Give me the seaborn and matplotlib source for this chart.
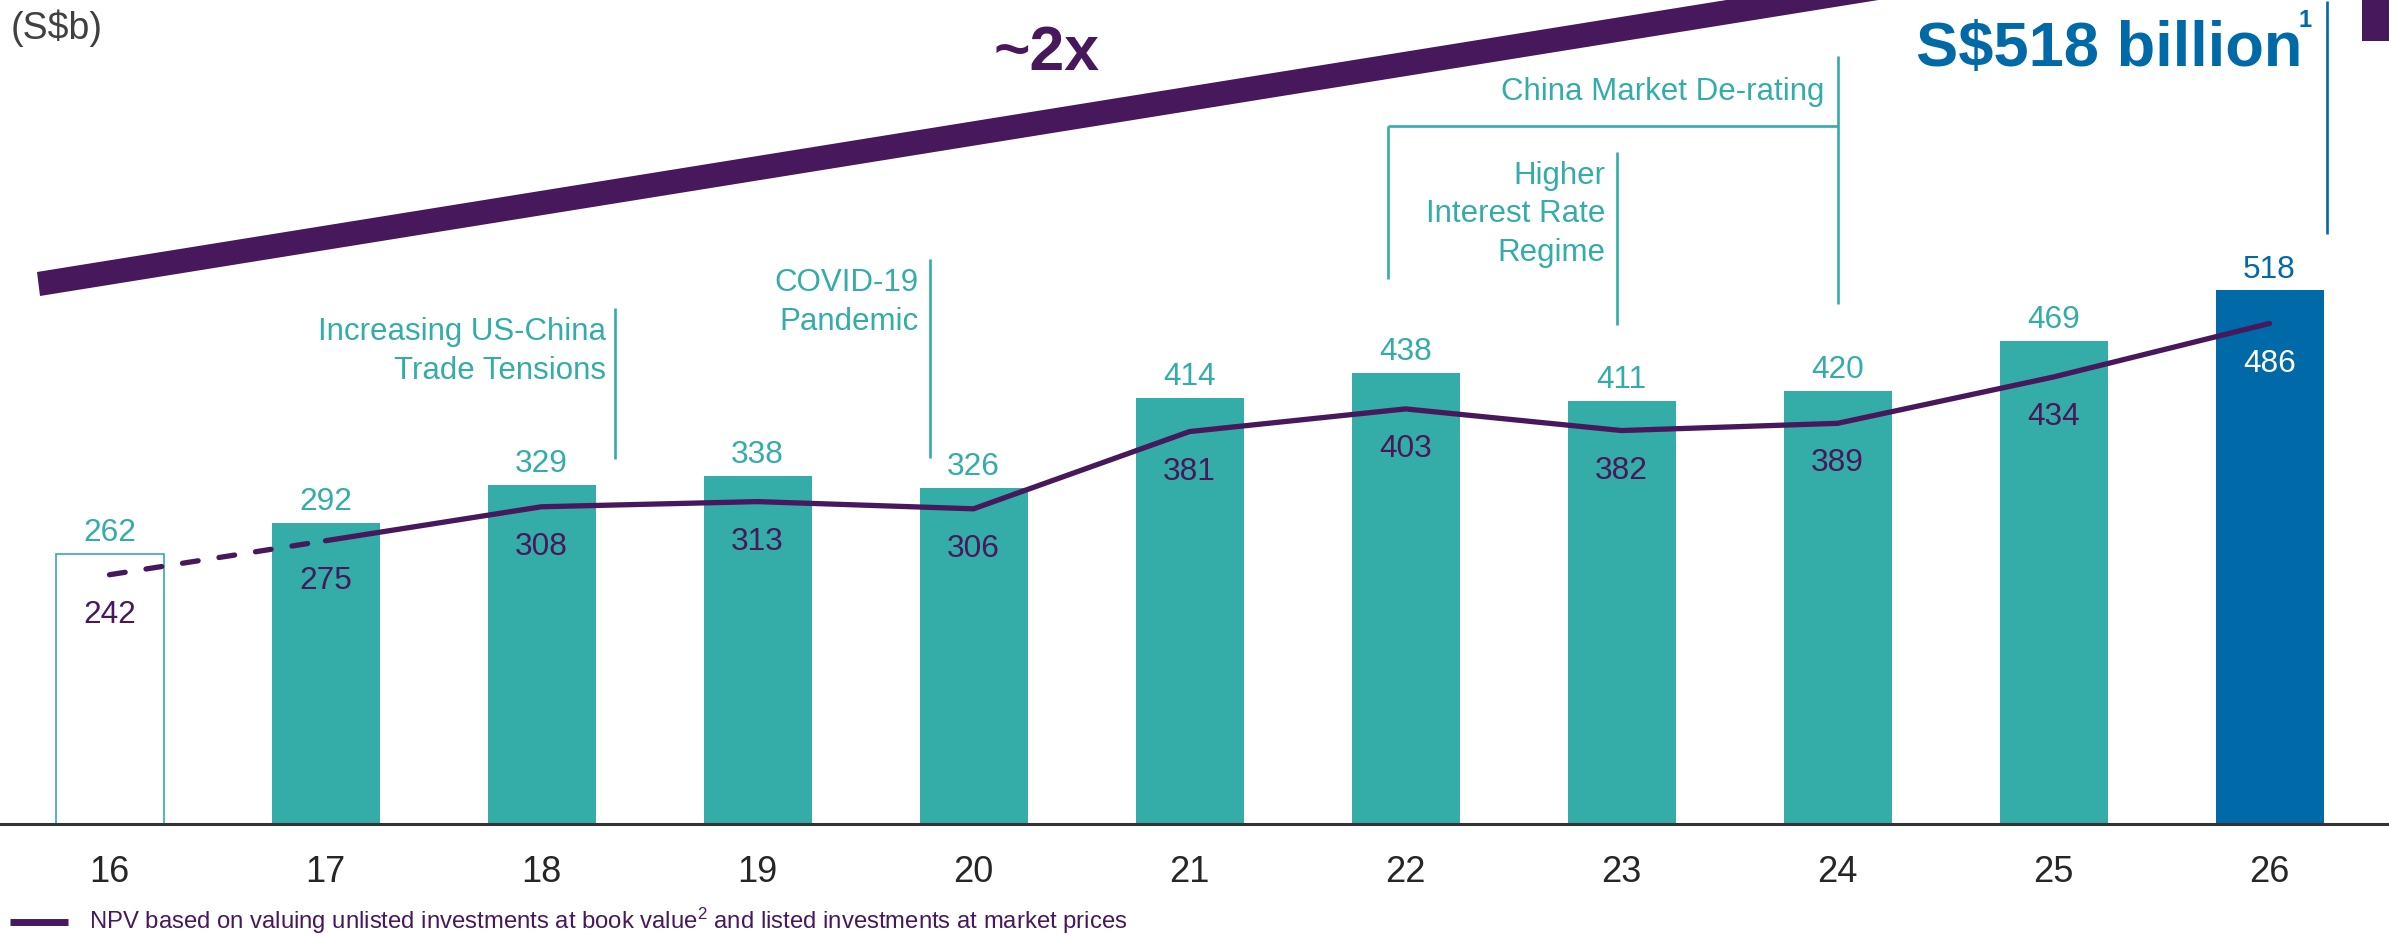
import numpy as np
import pandas as pd
import matplotlib
matplotlib.use("Agg")
import matplotlib.pyplot as plt
import seaborn as sns
from matplotlib.patches import Polygon, Rectangle
from matplotlib.lines import Line2D

# ---------------- data ----------------
years = ["16", "17", "18", "19", "20", "21", "22", "23", "24", "25", "26"]
portfolio_value = [262, 292, 329, 338, 326, 414, 438, 411, 420, 469, 518]
npv_book_value = [242, 275, 308, 313, 306, 381, 403, 382, 389, 434, 486]

unit_label = "(S$b)"
growth_label = "~2x"
headline_label = "S$518 billion"
headline_note = "1"
event_us_china = ["Increasing US-China", "Trade Tensions"]
event_covid = ["COVID-19", "Pandemic"]
event_rates = ["Higher", "Interest Rate", "Regime"]
event_china = ["China Market De-rating"]
legend_label = ("NPV based on valuing unlisted investments at book value$^{2}$ "
                "and listed investments at market prices")

# ---------------- style ----------------
TEAL = "#34ACA7"
BLUE = "#0069A7"
PURPLE = "#47185B"
DARK = "#262626"
GREY = "#404040"

sns.set_theme(style="white")
plt.rcParams["font.family"] = ["Liberation Sans", "DejaVu Sans"]
plt.rcParams["mathtext.fontset"] = "custom"
plt.rcParams["mathtext.rm"] = "Liberation Sans"
plt.rcParams["mathtext.it"] = "Liberation Sans:italic"
plt.rcParams["mathtext.bf"] = "Liberation Sans:bold"

W, H = 2389, 937
BASE = 825      # baseline pixel row
PXU = 1.03      # pixels per S$b
X0 = 109.5      # pixel centre of first bar
STEP = 216      # pixel distance between bars

fig = plt.figure(figsize=(W / 100, H / 100), dpi=100)
ax = fig.add_axes([0, 1 - BASE / H, 1, BASE / H])


def dx(px):
    return (px - X0) / STEP


def dy(py):
    return (BASE - py) / PXU


df = pd.DataFrame({"year": years, "portfolio": portfolio_value,
                   "npv": npv_book_value, "pos": np.arange(len(years))})

bar_colors = [TEAL] * (len(years) - 1) + [BLUE]
sns.barplot(data=df, x="year", y="portfolio", hue="year", palette=bar_colors,
            legend=False, width=0.5, saturation=1, linewidth=0, ax=ax)
first = ax.patches[0]
first.set_facecolor("white")
first.set_edgecolor(TEAL)
first.set_linewidth(1.2)

# NPV line: dashed for first segment, solid afterwards
LW = 3.8
sns.lineplot(data=df.iloc[:2], x="pos", y="npv", color=PURPLE, lw=LW,
             linestyle=(0, (3.0, 4.0)), dash_capstyle="round", ax=ax)
sns.lineplot(data=df.iloc[1:], x="pos", y="npv", color=PURPLE, lw=LW,
             solid_capstyle="round", solid_joinstyle="round", ax=ax)

# value labels
n = len(years)
for i, (p, v) in enumerate(zip(portfolio_value, npv_book_value)):
    last = i == n - 1
    ax.annotate(str(p), (i, p), xytext=(0, 15.8), textcoords="offset points",
                ha="center", va="center", fontsize=22.8,
                color=BLUE if last else TEAL)
    ax.annotate(str(v), (i, v), xytext=(0, -28.2), textcoords="offset points",
                ha="center", va="center", fontsize=22.8,
                color="white" if last else PURPLE)

# axes cosmetics
ax.set_xlim(dx(0), dx(W))
ax.set_ylim(0, BASE / PXU)
ax.set_xlabel("")
ax.set_ylabel("")
ax.set_yticks([])
ax.tick_params(axis="x", length=0, pad=21.5, labelsize=26, labelcolor=DARK)
for s in ["top", "left", "right"]:
    ax.spines[s].set_visible(False)
ax.spines["bottom"].set_color("#333333")
ax.spines["bottom"].set_linewidth(2.2)

# ---------------- annotations ----------------
ALW = 1.9


def vline(xp, y1, y2, color=TEAL):
    ax.plot([dx(xp), dx(xp)], [dy(y1), dy(y2)], color=color, lw=ALW,
            clip_on=False, solid_capstyle="butt")


def lines_text(lines, xr, baselines):
    for t, b in zip(lines, baselines):
        ax.text(dx(xr), dy(b), t, ha="right", va="baseline", fontsize=22.5,
                color=TEAL)


lines_text(event_us_china, 606, [340, 379])
vline(615, 309, 460)
lines_text(event_covid, 919, [291, 330])
vline(930, 260, 459)
lines_text(event_rates, 1605, [184, 222, 261])
vline(1617, 153, 326)
lines_text(event_china, 1824, [100])
vline(1388, 127, 280)
vline(1838, 57, 305)
ax.plot([dx(1388), dx(1838)], [dy(127), dy(127)], color=TEAL, lw=ALW,
        solid_capstyle="butt")
vline(2327, 2, 235, color=BLUE)

# growth band
band_px = [(37, 273), (2000, 273 - 0.161 * 1963), (2000, 297 - 0.161 * 1960), (40, 297)]
ax.add_patch(Polygon([(dx(a), dy(b)) for a, b in band_px], closed=True,
                     facecolor=PURPLE, edgecolor="none"))
ax.text(dx(1047), dy(70), growth_label, ha="center", va="baseline",
        fontsize=45, fontweight="bold", color=PURPLE)

# headline
ax.text(dx(2302), dy(66), headline_label, ha="right", va="baseline",
        fontsize=45.5, fontweight="bold", color=BLUE)
ax.text(dx(2298), dy(27), headline_note, ha="left", va="baseline",
        fontsize=17, fontweight="bold", color=BLUE)

# unit label
fig.text(11 / W, 1 - 39 / H, unit_label, ha="left", va="baseline",
         fontsize=27, color=GREY)

# top-right corner block
fig.add_artist(Rectangle((2362 / W, 1 - 42 / H), 27 / W, 42 / H,
                         transform=fig.transFigure, facecolor=PURPLE,
                         edgecolor="none"))

# legend
fig.add_artist(Line2D([10 / W, 68 / W], [1 - 922.5 / H, 1 - 922.5 / H],
                      transform=fig.transFigure, color=PURPLE, lw=5,
                      solid_capstyle="butt"))
fig.text(89 / W, 1 - 921 / H, legend_label, ha="left", va="center",
         fontsize=17.2, color=PURPLE)

fig.savefig("out.png", dpi=100)
